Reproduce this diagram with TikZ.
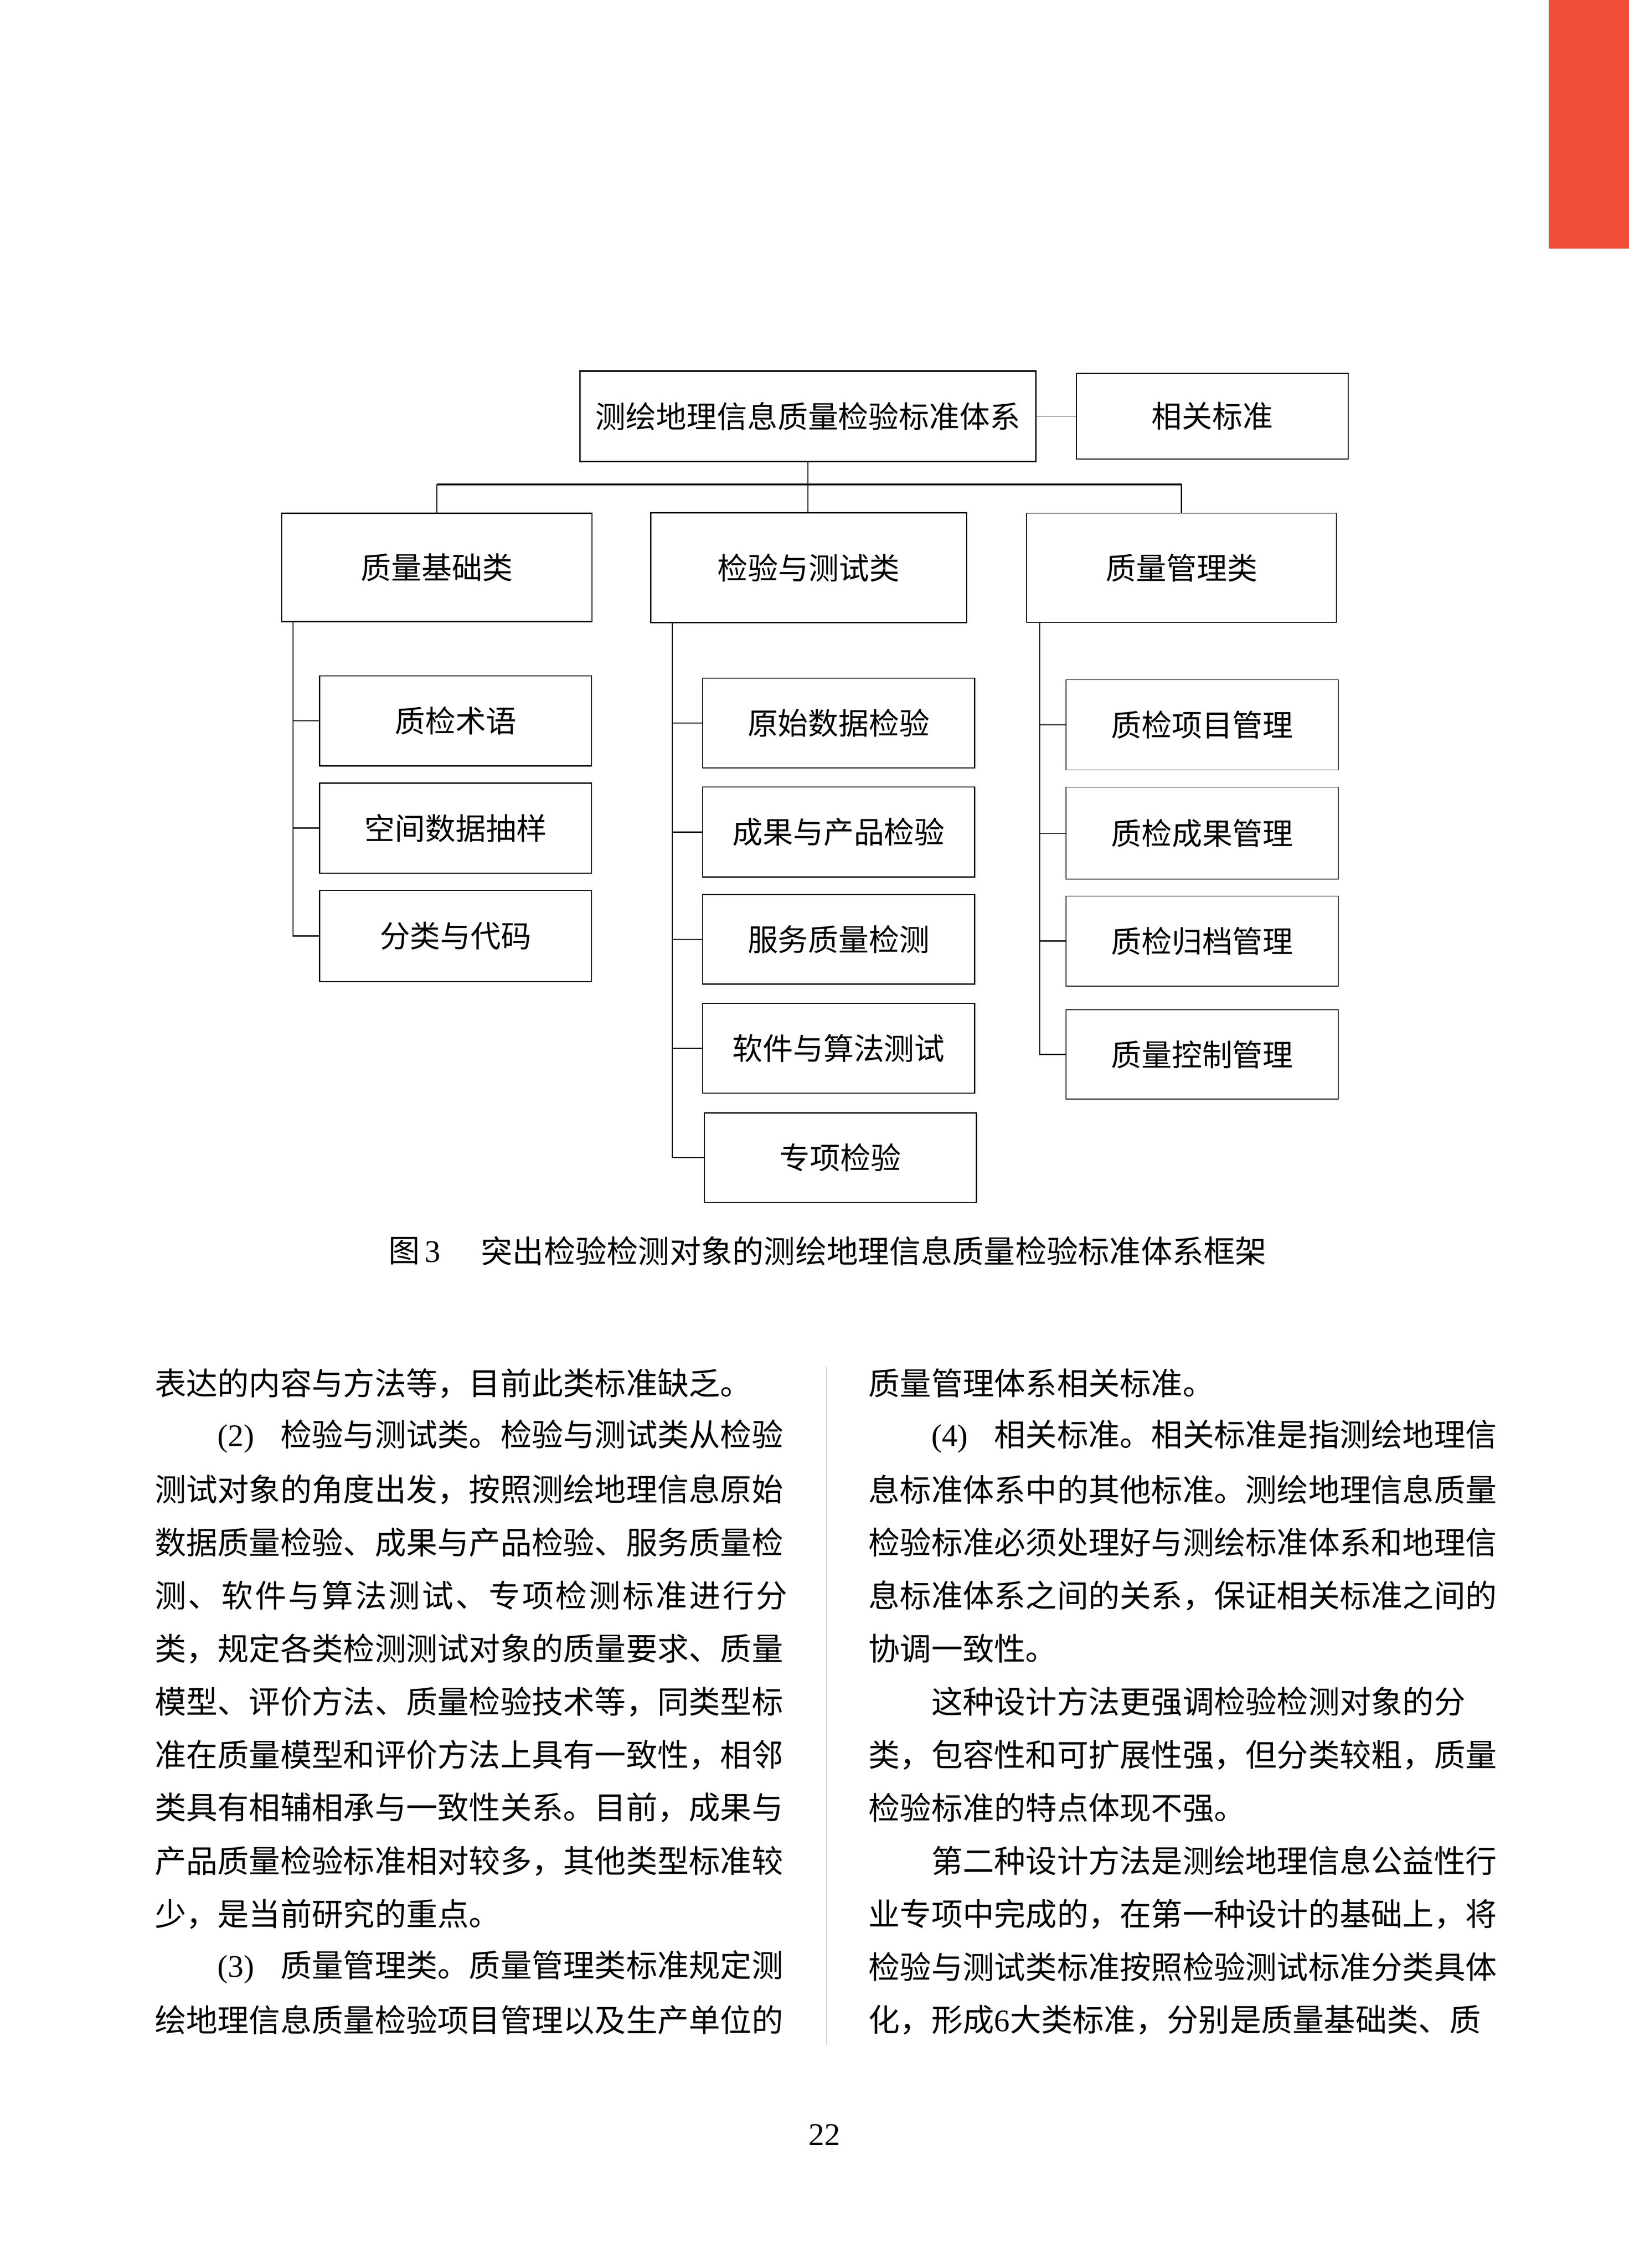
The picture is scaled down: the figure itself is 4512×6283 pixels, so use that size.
\documentclass[tikz,border=0pt]{standalone}
\usepackage{fontspec}
\setmainfont{Liberation Serif}
\newfontfamily\cjk{Noto Sans CJK SC}
\XeTeXlinebreaklocale "zh"
\XeTeXlinebreakskip=0pt plus 1pt
\definecolor{redbar}{RGB}{240,78,56}
\newcommand{\jl}[1]{\makebox[17.52cm][s]{#1}}
\newcommand{\jr}[1]{\makebox[17.38cm][s]{#1}}
\newcommand{\ind}{\hspace*{2em}}
\newcommand{\num}[1]{\makebox[2em][l]{\rmfamily(#1)}}
\begin{document}
\begin{tikzpicture}[x=0.01cm,y=-0.01cm,
  lbl/.style={font=\cjk\fontsize{23.9pt}{28pt}\selectfont},
  bx/.style={draw, lbl, inner sep=0pt, anchor=center},
  thickb/.style={line width=1.14pt},
  midb/.style={line width=0.85pt},
  thinb/.style={line width=0.57pt},
  child/.style={bx, minimum width=7.53cm, minimum height=2.49cm},
  body/.style={font=\cjk\fontsize{24.75pt}{30pt}\selectfont, anchor=west, inner sep=0pt},
  conn/.style={line width=0.85pt}
]
\useasboundingbox (0,0) rectangle (4512,6283);
\fill[white] (0,0) rectangle (4512,6283);
\fill[redbar] (4290,0) rectangle (4512,688);

% top level
\node[bx, thickb, minimum width=12.62cm, minimum height=2.5cm] (top) at (2238,1153) {测绘地理信息质量检验标准体系};
\node[bx, thinb, minimum width=7.52cm, minimum height=2.37cm] (rel) at (3358,1153) {相关标准};
\draw[thinb] (top.east) -- (rel.west);

% second level
\node[bx, midb, minimum width=8.59cm, minimum height=3.0cm] (base) at (1210,1572) {质量基础类};
\node[bx, line width=1pt, minimum width=8.75cm, minimum height=3.04cm] (test) at (2240,1573) {检验与测试类};
\node[bx, thinb, minimum width=8.58cm, minimum height=3.02cm] (mgmt) at (3273,1573) {质量管理类};

\coordinate (bar) at (2238,1342);
\draw[conn] (top.south) -- (top.south |- test.north);
\draw[thickb] (base.north |- bar) -- (mgmt.north |- bar);
\draw[conn] (base.north |- bar) -- (base.north);
\draw[conn] (mgmt.north |- bar) -- (mgmt.north);

% children of base
\node[child, midb] (b1) at (1262,1997) {质检术语};
\node[child, midb] (b2) at (1262,2294) {空间数据抽样};
\node[child, midb, minimum height=2.52cm] (b3) at (1262,2593) {分类与代码};
\coordinate (bv) at (812,1722);
\draw[conn] (bv) |- (b3.west);
\foreach \n in {b1,b2} \draw[conn] (bv |- \n.west) -- (\n.west);

% children of test
\node[child, midb, minimum height=2.48cm] (t1) at (2323,2003) {原始数据检验};
\node[child, midb] (t2) at (2323,2305) {成果与产品检验};
\node[child, midb, minimum height=2.48cm] (t3) at (2323,2602) {服务质量检测};
\node[child, midb, minimum height=2.48cm] (t4) at (2323,2904) {软件与算法测试};
\node[child, midb, minimum height=2.48cm] (t5) at (2328,3207) {专项检验};
\coordinate (tv) at (1862,1725);
\draw[conn] (tv) |- (t5.west);
\foreach \n in {t1,t2,t3,t4} \draw[conn] (tv |- \n.west) -- (\n.west);

% children of mgmt
\node[child, thinb, minimum height=2.5cm] (m1) at (3330,2008) {质检项目管理};
\node[child, thinb, minimum height=2.54cm] (m2) at (3330,2308) {质检成果管理};
\node[child, thinb] (m3) at (3330,2607) {质检归档管理};
\node[child, thinb, minimum height=2.48cm] (m4) at (3330,2921) {质量控制管理};
\coordinate (mv) at (2880,1724);
\draw[conn] (mv) |- (m4.west);
\foreach \n in {m1,m2,m3} \draw[conn] (mv |- \n.west) -- (\n.west);

% caption
\node[body] (capn) at (1075,3465) {图{\rmfamily\,3}};
\node[body] (capt) at (1332,3465) {突出检验检测对象的测绘地理信息质量检验标准体系框架};

% left column
\node[body] (l1) at (428,3832) {表达的内容与方法等，目前此类标准缺乏。};
\node[body] (l2) at (428,3979) {\jl{\ind\num{2}检验与测试类。检验与测试类从检验}};
\node[body] (l3) at (428,4126) {\jl{测试对象的角度出发，按照测绘地理信息原始}};
\node[body] (l4) at (428,4273) {\jl{数据质量检验、成果与产品检验、服务质量检}};
\node[body] (l5) at (428,4420) {\jl{测\hfill、\hfill 软\hfill 件\hfill 与\hfill 算\hfill 法\hfill 测\hfill 试\hfill 、\hfill 专\hfill 项\hfill 检\hfill 测\hfill 标\hfill 准\hfill 进\hfill 行\hfill 分}};
\node[body] (l6) at (428,4567) {\jl{类，规定各类检测测试对象的质量要求、质量}};
\node[body] (l7) at (428,4714) {\jl{模型、评价方法、质量检验技术等，同类型标}};
\node[body] (l8) at (428,4861) {\jl{准在质量模型和评价方法上具有一致性，相邻}};
\node[body] (l9) at (428,5008) {\jl{类具有相辅相承与一致性关系。目前，成果与}};
\node[body] (l10) at (428,5155) {\jl{产品质量检验标准相对较多，其他类型标准较}};
\node[body] (l11) at (428,5302) {少，是当前研究的重点。};
\node[body] (l12) at (428,5449) {\jl{\ind\num{3}质量管理类。质量管理类标准规定测}};
\node[body] (l13) at (428,5596) {\jl{绘地理信息质量检验项目管理以及生产单位的}};

% divider
\draw[black!40, line width=0.57pt] (2290,3787) -- (2290,5666);

% right column
\node[body] (r1) at (2405,3832) {质量管理体系相关标准。};
\node[body] (r2) at (2405,3979) {\jr{\ind\num{4}相关标准。相关标准是指测绘地理信}};
\node[body] (r3) at (2405,4126) {\jr{息标准体系中的其他标准。测绘地理信息质量}};
\node[body] (r4) at (2405,4273) {\jr{检验标准必须处理好与测绘标准体系和地理信}};
\node[body] (r5) at (2405,4420) {\jr{息标准体系之间的关系，保证相关标准之间的}};
\node[body] (r6) at (2405,4567) {协调一致性。};
\node[body] (r7) at (2405,4714) {\jr{\ind 这种设计方法更强调检验检测对象的分}};
\node[body] (r8) at (2405,4861) {\jr{类，包容性和可扩展性强，但分类较粗，质量}};
\node[body] (r9) at (2405,5008) {检验标准的特点体现不强。};
\node[body] (r10) at (2405,5155) {\jr{\ind 第二种设计方法是测绘地理信息公益性行}};
\node[body] (r11) at (2405,5302) {\jr{业专项中完成的，在第一种设计的基础上，将}};
\node[body] (r12) at (2405,5449) {\jr{检验与测试类标准按照检验测试标准分类具体}};
\node[body] (r13) at (2405,5596) {化，形成{\rmfamily 6}大类标准，分别是质量基础类、质};

% page number
\node[font=\rmfamily\fontsize{25pt}{30pt}\selectfont, inner sep=0pt] (pg) at (2284,5914) {22};
\end{tikzpicture}
\end{document}
